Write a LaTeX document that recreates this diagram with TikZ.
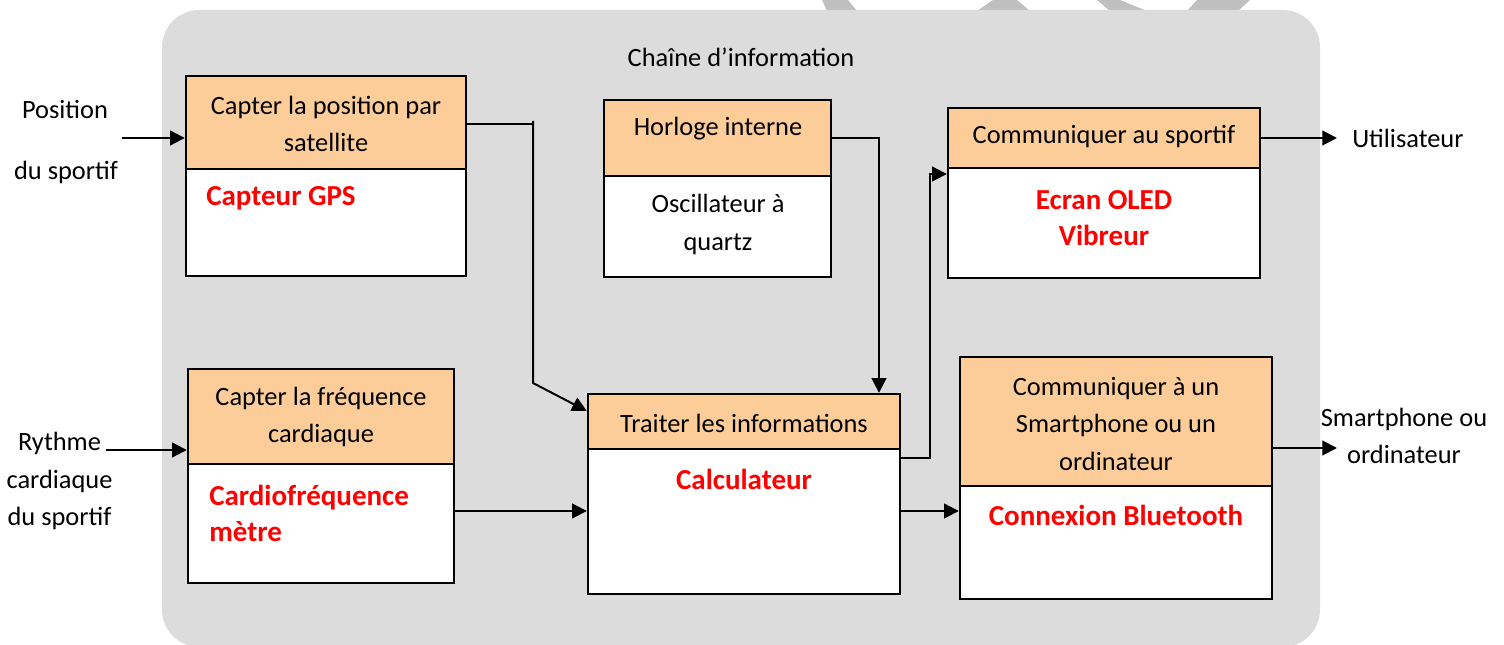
\documentclass[tikz,border=0pt]{standalone}
\usepackage{fontspec}
\setmainfont{Carlito}
\usetikzlibrary{arrows.meta,fit}
\definecolor{bggray}{RGB}{220,220,220}
\definecolor{wmgray}{RGB}{191,191,191}
\definecolor{hdrorange}{RGB}{252,204,153}
\definecolor{redtxt}{RGB}{255,0,0}
\begin{document}
\begin{tikzpicture}[x=0.75pt,y=-0.75pt,
  hdr/.style={draw=black, fill=hdrorange, line width=1.8pt, inner sep=0pt},
  bodybox/.style={draw=black, fill=white, line width=1.8pt, inner sep=0pt},
  txt/.style={font=\fontsize{19.8pt}{28pt}\selectfont, align=center, inner sep=0pt},
  rtxt/.style={font=\fontsize{21.75pt}{27pt}\selectfont\bfseries, text=redtxt, inner sep=0pt},
  conn/.style={line width=1.5pt},
  arr/.style={conn, -{Triangle[length=11pt,width=11pt]}}]
\useasboundingbox (0,0) rectangle (1504,645);
% watermark fragments
\fill[wmgray] (822,0) -- (848,0) -- (857,11) -- (827,11) -- cycle;
\fill[wmgray] (993,0) -- (1017,0) -- (1030,11) -- (977,11) -- cycle;
\fill[wmgray] (1097,0) -- (1120,0) -- (1147,11) -- (1110,11) -- cycle;
\fill[wmgray] (1197,0) -- (1250,0) -- (1238,11) -- (1187,11) -- cycle;
% background
\fill[bggray, rounded corners=28pt] (162,10) rectangle (1320,647);
\node[txt] (title) at (741,57) {Chaîne d’information};

% boxes
\node[bodybox, fit={(186,169)(466,276)}] (gpsB) {};
\node[hdr, fit={(186,76)(466,169)}] (gpsH) {};
\node[bodybox, fit={(604,176)(831,277)}] (hoB) {};
\node[hdr, fit={(604,100)(831,176)}] (hoH) {};
\node[bodybox, fit={(948,168)(1260,278)}] (coB) {};
\node[hdr, fit={(948,108)(1260,168)}] (coH) {};
\node[bodybox, fit={(188,464)(454,583)}] (cfB) {};
\node[hdr, fit={(188,369)(454,464)}] (cfH) {};
\node[bodybox, fit={(588,449)(900,594)}] (trB) {};
\node[hdr, fit={(588,394)(900,449)}] (trH) {};
\node[bodybox, fit={(960,486)(1272,599)}] (btB) {};
\node[hdr, fit={(960,357)(1272,486)}] (btH) {};

% box texts
\node[txt] (gpsT) at (326,124) {Capter la position par\\satellite};
\node[rtxt, anchor=west] (gpsR) at (206,198) {Capteur GPS};
\node[txt] (hoT) at (718,129) {Horloge interne};
\node[txt] (hoT2) at (718,224.5) {Oscillateur à\\quartz};
\node[txt] (coT) at (1104,137) {Communiquer au sportif};
\node[rtxt, align=center] (coR) at (1104,218.5) {Ecran OLED\\Vibreur};
\node[txt] (cfT) at (321,417) {Capter la fréquence\\cardiaque};
\node[rtxt, anchor=west, align=left] (cfR) at (209,513) {Cardiofréquence\\mètre};
\node[txt] (trT) at (744,423) {Traiter les informations};
\node[rtxt] (trR) at (744,479) {Calculateur};
\node[txt] (btT) at (1116,424) {Communiquer à un\\Smartphone ou un\\ordinateur};
\node[rtxt] (btR) at (1116,515) {Connexion Bluetooth};

% outside texts
\node[txt] (pos1) at (65,109) {Position};
\node[txt] (pos2) at (66,172) {du sportif};
\node[txt] (ry) at (59.5,481) {Rythme\\cardiaque\\du sportif};
\node[txt, anchor=west] (ut) at (1352,138) {Utilisateur};
\node[txt] (sm) at (1404,436) {Smartphone ou\\ordinateur};

% helper coordinates
\coordinate (posIn) at (122,138);
\coordinate (ryIn) at (106,450);
\coordinate (gk1) at (533,124);
\coordinate (gk0) at (533,121);
\coordinate (gk2) at (533,383);
\coordinate (gk3) at (0,411);
\coordinate (hk) at (879,138);
\coordinate (y511) at (0,511);
\coordinate (tk1) at (930,458);
\coordinate (tk2) at (930,174);
\coordinate (utIn) at (1337,138);
\coordinate (smIn) at (1337,448);

% connectors
\draw[arr] (posIn) -- (posIn -| gpsH.west);
\draw[arr] (ryIn) -- (ryIn -| cfH.west);
\draw[conn] (gk1 -| gpsH.east) -- (gk1);
\draw[arr] (gk0) -- (gk2) -- (gk3 -| trH.west);
\draw[arr] (hk -| hoH.east) -- (hk) -- (hk |- trH.north);
\draw[arr] (y511 -| cfB.east) -- (y511 -| trB.west);
\draw[arr] (tk1 -| trB.east) -- (tk1) -- (tk2) -- (tk2 -| coB.west);
\draw[arr] (y511 -| trB.east) -- (y511 -| btB.west);
\draw[arr] (utIn -| coH.east) -- (utIn);
\draw[arr] (smIn -| btH.east) -- (smIn);
\end{tikzpicture}
\end{document}
